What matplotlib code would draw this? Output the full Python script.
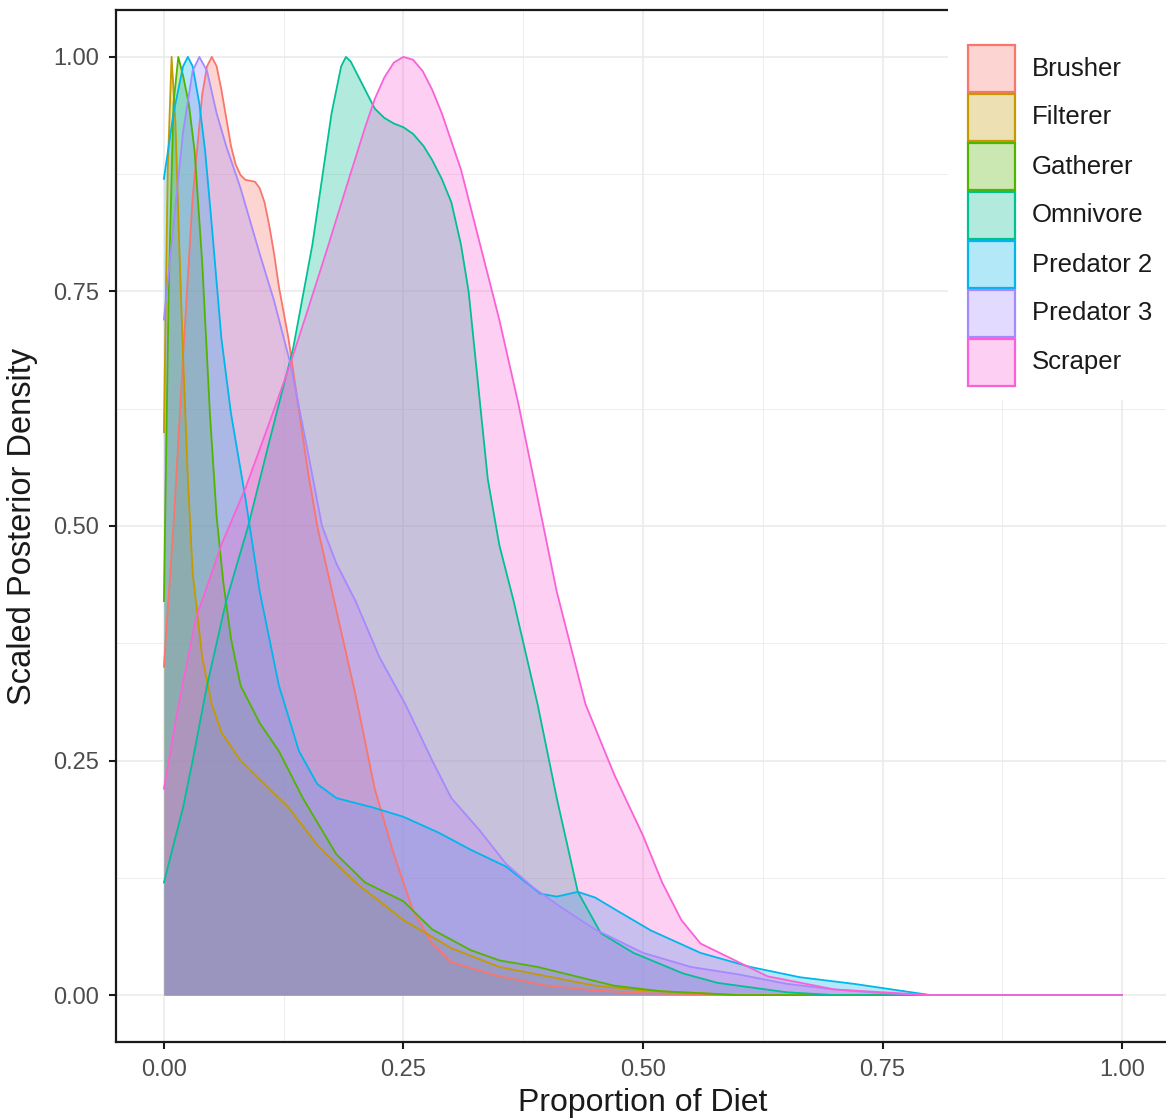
import numpy as np
import matplotlib
matplotlib.use("Agg")
import matplotlib.pyplot as plt
from matplotlib.patches import Rectangle

plt.rcParams['font.family'] = ['Liberation Sans', 'DejaVu Sans']

# scaled posterior densities per feeding group (max = 1)
groups = ["Brusher", "Filterer", "Gatherer", "Omnivore", "Predator 2", "Predator 3", "Scraper"]
colors = ["#F8766D", "#C49A00", "#53B400", "#00C094", "#00B6EB", "#A58AFF", "#FB61D7"]

brusher_x = [0, 0.01, 0.02, 0.03, 0.04, 0.045, 0.05, 0.055, 0.06, 0.065, 0.07, 0.075, 0.08, 0.085,
             0.09, 0.095, 0.1, 0.105, 0.11, 0.115, 0.12, 0.13, 0.14, 0.15, 0.16, 0.18, 0.2, 0.22,
             0.24, 0.26, 0.28, 0.3, 0.35, 0.4, 0.45, 0.5, 0.6, 1.0]
brusher_y = [0.35, 0.5, 0.68, 0.85, 0.96, 0.99, 1.0, 0.99, 0.965, 0.935, 0.905, 0.885, 0.874, 0.869,
             0.868, 0.867, 0.86, 0.845, 0.82, 0.79, 0.755, 0.7, 0.63, 0.56, 0.5, 0.41, 0.32, 0.22,
             0.15, 0.09, 0.055, 0.035, 0.02, 0.01, 0.005, 0.002, 0.0, 0.0]

filterer_x = [0, 0.004, 0.008, 0.012, 0.016, 0.02, 0.025, 0.03, 0.04, 0.05, 0.06, 0.08, 0.1,
              0.13, 0.16, 0.2, 0.25, 0.3, 0.35, 0.4, 0.45, 0.5, 0.6, 1.0]
filterer_y = [0.6, 0.88, 1.0, 0.93, 0.8, 0.68, 0.55, 0.45, 0.36, 0.31, 0.28, 0.25, 0.23,
              0.2, 0.16, 0.12, 0.08, 0.05, 0.03, 0.02, 0.01, 0.005, 0.0, 0.0]

gatherer_x = [0, 0.005, 0.01, 0.015, 0.02, 0.026, 0.032, 0.04, 0.048, 0.055, 0.062, 0.07, 0.08,
              0.1, 0.12, 0.145, 0.18, 0.21, 0.25, 0.28, 0.32, 0.35, 0.39, 0.43, 0.47, 0.52, 0.6, 1.0]
gatherer_y = [0.42, 0.75, 0.95, 1.0, 0.98, 0.95, 0.9, 0.78, 0.62, 0.51, 0.44, 0.38, 0.33,
              0.29, 0.26, 0.21, 0.15, 0.12, 0.1, 0.07, 0.048, 0.037, 0.03, 0.02, 0.01, 0.004, 0.0, 0.0]

omnivore_x = [0, 0.01, 0.02, 0.03, 0.045, 0.065, 0.088, 0.11, 0.135, 0.155, 0.165, 0.175, 0.18,
              0.185, 0.19, 0.195, 0.2, 0.21, 0.22, 0.23, 0.24, 0.25, 0.26, 0.271, 0.28, 0.29, 0.3,
              0.31, 0.318, 0.327, 0.338, 0.35, 0.365, 0.39, 0.41, 0.432, 0.456, 0.49, 0.542,
              0.578, 0.65, 0.7, 1.0]
omnivore_y = [0.12, 0.16, 0.2, 0.25, 0.33, 0.42, 0.5, 0.59, 0.69, 0.8, 0.87, 0.94, 0.965,
              0.99, 1.0, 0.995, 0.985, 0.965, 0.945, 0.935, 0.929, 0.925, 0.918, 0.905, 0.89, 0.87, 0.845,
              0.8, 0.75, 0.66, 0.55, 0.48, 0.42, 0.31, 0.21, 0.11, 0.066, 0.045, 0.023,
              0.013, 0.003, 0.0, 0.0]

pred2_x = [0, 0.01, 0.02, 0.025, 0.03, 0.037, 0.043, 0.05, 0.06, 0.07, 0.085, 0.1, 0.12, 0.141,
           0.16, 0.18, 0.218, 0.25, 0.287, 0.32, 0.357, 0.393, 0.41, 0.432, 0.45, 0.473, 0.508,
           0.56, 0.612, 0.664, 0.72, 0.76, 0.8, 1.0]
pred2_y = [0.87, 0.94, 0.99, 1.0, 0.99, 0.95, 0.9, 0.82, 0.7, 0.62, 0.53, 0.43, 0.33, 0.26,
           0.225, 0.21, 0.2, 0.19, 0.173, 0.155, 0.137, 0.108, 0.105, 0.11, 0.104, 0.09, 0.069,
           0.045, 0.03, 0.019, 0.012, 0.006, 0.0, 0.0]

pred3_x = [0, 0.01, 0.02, 0.03, 0.037, 0.045, 0.055, 0.065, 0.08, 0.1, 0.115, 0.132, 0.15, 0.165,
           0.18, 0.2, 0.225, 0.252, 0.28, 0.3, 0.33, 0.357, 0.385, 0.414, 0.45, 0.5, 0.55, 0.6,
           0.65, 0.7, 0.75, 0.8, 1.0]
pred3_y = [0.72, 0.82, 0.92, 0.985, 1.0, 0.985, 0.94, 0.905, 0.86, 0.79, 0.74, 0.673, 0.58, 0.5,
           0.46, 0.42, 0.36, 0.31, 0.25, 0.21, 0.175, 0.14, 0.115, 0.094, 0.07, 0.045, 0.03, 0.022,
           0.012, 0.006, 0.002, 0.0, 0.0]

scraper_x = [0, 0.0136, 0.033, 0.06, 0.085, 0.11, 0.132, 0.15, 0.17, 0.19, 0.21, 0.22, 0.23, 0.24,
             0.25, 0.26, 0.27, 0.28, 0.29, 0.3, 0.31, 0.32, 0.33, 0.35, 0.37, 0.39, 0.41, 0.44,
             0.47, 0.5, 0.52, 0.54, 0.56, 0.59, 0.63, 0.7, 0.8, 1.0]
scraper_y = [0.22, 0.3, 0.4, 0.48, 0.54, 0.61, 0.673, 0.73, 0.794, 0.86, 0.925, 0.955, 0.978, 0.994,
             1.0, 0.997, 0.985, 0.965, 0.94, 0.91, 0.88, 0.84, 0.8, 0.72, 0.63, 0.53, 0.43, 0.31,
             0.235, 0.17, 0.12, 0.08, 0.055, 0.04, 0.02, 0.006, 0.0, 0.0]

xs = [brusher_x, filterer_x, gatherer_x, omnivore_x, pred2_x, pred3_x, scraper_x]
ys = [brusher_y, filterer_y, gatherer_y, omnivore_y, pred2_y, pred3_y, scraper_y]

W, H = 1166, 1119
fig = plt.figure(figsize=(W / 100, H / 100), dpi=100)
ax = fig.add_axes([116 / W, 1 - 1042 / H, (1170 - 116) / W, (1042 - 10) / H])

for gx, gy, c in zip(xs, ys, colors):
    ax.fill_between(gx, gy, 0, color=c, alpha=0.3, lw=0)
    ax.plot(gx, gy, color=c, lw=1.3)

ax.set_xlim(-0.05, 1.05)
ax.set_ylim(-0.05, 1.05)
ticks = [0, 0.25, 0.5, 0.75, 1.0]
ax.set_xticks(ticks)
ax.set_yticks(ticks)
ax.set_xticklabels(["%.2f" % t for t in ticks])
ax.set_yticklabels(["%.2f" % t for t in ticks])
ax.set_xticks(np.arange(0.125, 1.0, 0.25), minor=True)
ax.set_yticks(np.arange(0.125, 1.0, 0.25), minor=True)
ax.tick_params(which='major', length=5, width=1.5, color='#1a1a1a', labelsize=17,
               labelcolor='#4D4D4D', pad=7)
ax.tick_params(which='minor', length=0)
ax.grid(which='major', color='#EBEBEB', lw=1.2)
ax.grid(which='minor', color='#EBEBEB', lw=0.6)
ax.set_axisbelow(True)

for side in ['left', 'bottom', 'top']:
    ax.spines[side].set_color('#1a1a1a')
    ax.spines[side].set_linewidth(1.6)
ax.spines['right'].set_visible(False)

ax.set_xlabel("Proportion of Diet", fontsize=23, labelpad=5, color='#1a1a1a')
ax.set_ylabel("Scaled Posterior Density", fontsize=23.5, labelpad=11, color='#1a1a1a')

# legend panel on the right, drawn in pixel units
lax = fig.add_axes([948 / W, 1 - 400 / H, (W - 948) / W, 400 / H])
lax.set_xlim(948, W)
lax.set_ylim(400, 0)
lax.set_xticks([])
lax.set_yticks([])
for s in lax.spines.values():
    s.set_visible(False)
lax.set_facecolor('white')
row_h = 49
for i, (g, c) in enumerate(zip(groups, colors)):
    top = 44 + i * row_h
    lax.add_patch(Rectangle((968, top + 1), 47, row_h - 2, facecolor=c, alpha=0.3, lw=0))
    lax.add_patch(Rectangle((968, top + 1), 47, row_h - 2, facecolor='none', edgecolor=c, lw=1.6))
    lax.text(1032, top + row_h / 2, g, fontsize=18.5, va='center', ha='left', color='#1a1a1a')

fig.savefig("out.png", dpi=100)
